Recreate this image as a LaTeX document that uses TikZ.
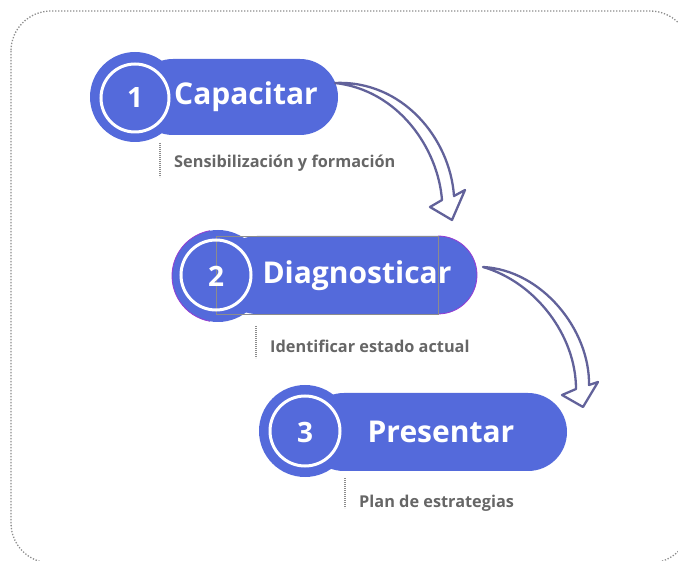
\documentclass[tikz,border=0pt]{standalone}
\usepackage{fontspec}
\setmainfont{Open Sans}
\definecolor{pillblue}{RGB}{84,106,219}
\definecolor{arrowc}{RGB}{98,98,154}
\definecolor{subgray}{RGB}{102,102,102}
\definecolor{framegray}{RGB}{140,140,140}
\definecolor{edgepurple}{RGB}{150,60,210}
\begin{document}
\begin{tikzpicture}[x=1pt,y=-1pt,
  pillfill/.style={fill=pillblue},
  ringline/.style={draw=white,line width=3pt},
  titletext/.style={text=white,font=\fontsize{30}{30}\selectfont\bfseries,inner sep=0pt},
  digittext/.style={text=white,font=\fontsize{28}{28}\selectfont\bfseries,inner sep=0pt},
  subtext/.style={text=subgray,font=\fontsize{16.3}{17}\selectfont\bfseries,inner sep=0pt,anchor=west},
  dotline/.style={draw=framegray,line width=2pt,dash pattern=on 0.8pt off 1.2pt},
  hollowarrow/.style={draw=arrowc,line width=2.3pt,fill=white,line join=round}]
\useasboundingbox (0,0) rectangle (678,561);
% outer frame
\draw[framegray,line width=1.3pt,dash pattern=on 1.3pt off 1.7pt,rounded corners=40pt] (11,11) rectangle (690,563);

% pill 1
\fill[pillfill,rounded corners=38pt] (135,59) rectangle (338,135);
\fill[pillfill] (135,97) circle[radius=45];
\draw[ringline] (135,98) circle[radius=34];
\node[digittext] (d1) at (135,98) {1};
\node[titletext] (t1) at (246,97) {Capacitar};
\draw[dotline] (160,143) -- (160,177);
\node[subtext] (s1) at (174,163) {Sensibilización y formación};

% pill 2
\fill[pillfill,rounded corners=39pt] (218,236) rectangle (477,314);
\fill[pillfill] (218,276) circle[radius=46];
\draw[edgepurple,line width=0.8pt] (218,276) ++(100:46) arc[start angle=100,end angle=260,radius=46];
\draw[edgepurple,line width=0.8pt] (438,236) arc[start angle=-90,end angle=90,radius=39];
\draw[framegray,line width=0.8pt] (216,236) rectangle (438,314);
\draw[ringline] (216,275) circle[radius=35];
\node[digittext] (d2) at (216,276) {2};
\node[titletext] (t2) at (357,276) {Diagnosticar};
\draw[dotline] (256,326) -- (256,358);
\node[subtext] (s2) at (270,346) {Identificar estado actual};

% pill 3
\fill[pillfill,rounded corners=39pt] (305,393) rectangle (567,471);
\fill[pillfill] (305,431) circle[radius=46];
\draw[ringline] (305,431) circle[radius=35];
\node[digittext] (d3) at (305,432) {3};
\node[titletext] (t3) at (441,432) {Presentar};
\draw[dotline] (345,478) -- (345,508);
\node[subtext] (s3) at (359,503) {Plan de estrategias};

% arrows
\coordinate (a1s) at (335,83);
\draw[hollowarrow] (a1s) .. controls (402,80) and (450,138) .. (454,196)
  -- (465,190) -- (452,220) -- (430,207) -- (442,200)
  .. controls (438,148) and (398,90) .. (a1s) -- cycle;
\coordinate (a2s) at (483,267);
\draw[hollowarrow] (a2s) .. controls (542,270) and (590,330) .. (589,385)
  -- (598,382) -- (583,407) -- (562,395) -- (576,389)
  .. controls (576,335) and (535,282) .. (a2s) -- cycle;
\end{tikzpicture}
\end{document}
